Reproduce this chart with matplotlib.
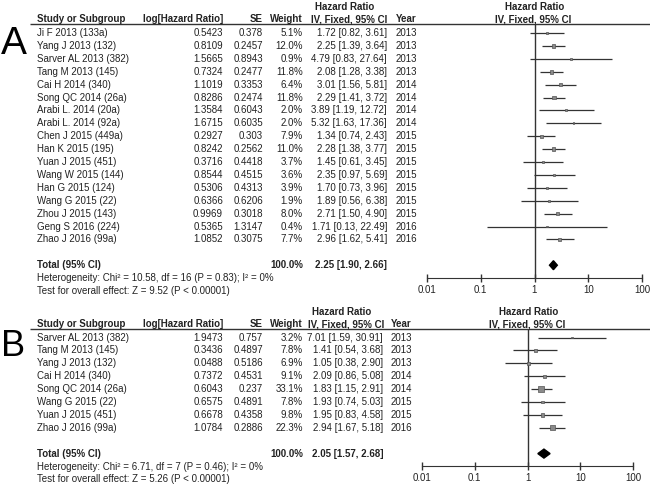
import matplotlib.pyplot as plt
import numpy as np

plt.rcParams['font.family'] = ['Liberation Sans', 'DejaVu Sans']

# ---- Panel A data ----
a_names = ["Ji F 2013 (133a)", "Yang J 2013 (132)", "Sarver AL 2013 (382)", "Tang M 2013 (145)",
           "Cai H 2014 (340)", "Song QC 2014 (26a)", "Arabi L. 2014 (20a)", "Arabi L. 2014 (92a)",
           "Chen J 2015 (449a)", "Han K 2015 (195)", "Yuan J 2015 (451)", "Wang W 2015 (144)",
           "Han G 2015 (124)", "Wang G 2015 (22)", "Zhou J 2015 (143)", "Geng S 2016 (224)",
           "Zhao J 2016 (99a)"]
a_loghr = ["0.5423", "0.8109", "1.5665", "0.7324", "1.1019", "0.8286", "1.3584", "1.6715", "0.2927",
           "0.8242", "0.3716", "0.8544", "0.5306", "0.6366", "0.9969", "0.5365", "1.0852"]
a_se = ["0.378", "0.2457", "0.8943", "0.2477", "0.3353", "0.2474", "0.6043", "0.6035", "0.303",
        "0.2562", "0.4418", "0.4515", "0.4313", "0.6206", "0.3018", "1.3147", "0.3075"]
a_weight = [5.1, 12.0, 0.9, 11.8, 6.4, 11.8, 2.0, 2.0, 7.9, 11.0, 3.7, 3.6, 3.9, 1.9, 8.0, 0.4, 7.7]
a_hr = [1.72, 2.25, 4.79, 2.08, 3.01, 2.29, 3.89, 5.32, 1.34, 2.28, 1.45, 2.35, 1.70, 1.89, 2.71, 1.71, 2.96]
a_lo = [0.82, 1.39, 0.83, 1.28, 1.56, 1.41, 1.19, 1.63, 0.74, 1.38, 0.61, 0.97, 0.73, 0.56, 1.50, 0.13, 1.62]
a_hi = [3.61, 3.64, 27.64, 3.38, 5.81, 3.72, 12.72, 17.36, 2.43, 3.77, 3.45, 5.69, 3.96, 6.38, 4.90, 22.49, 5.41]
a_year = [2013, 2013, 2013, 2013, 2014, 2014, 2014, 2014, 2015, 2015, 2015, 2015, 2015, 2015, 2015, 2016, 2016]
a_total = (2.25, 1.90, 2.66)
a_het = "Heterogeneity: Chi\u00b2 = 10.58, df = 16 (P = 0.83); I\u00b2 = 0%"
a_test = "Test for overall effect: Z = 9.52 (P < 0.00001)"

# ---- Panel B data ----
b_names = ["Sarver AL 2013 (382)", "Tang M 2013 (145)", "Yang J 2013 (132)", "Cai H 2014 (340)",
           "Song QC 2014 (26a)", "Wang G 2015 (22)", "Yuan J 2015 (451)", "Zhao J 2016 (99a)"]
b_loghr = ["1.9473", "0.3436", "0.0488", "0.7372", "0.6043", "0.6575", "0.6678", "1.0784"]
b_se = ["0.757", "0.4897", "0.5186", "0.4531", "0.237", "0.4891", "0.4358", "0.2886"]
b_weight = [3.2, 7.8, 6.9, 9.1, 33.1, 7.8, 9.8, 22.3]
b_hr = [7.01, 1.41, 1.05, 2.09, 1.83, 1.93, 1.95, 2.94]
b_lo = [1.59, 0.54, 0.38, 0.86, 1.15, 0.74, 0.83, 1.67]
b_hi = [30.91, 3.68, 2.90, 5.08, 2.91, 5.03, 4.58, 5.18]
b_year = [2013, 2013, 2013, 2014, 2014, 2015, 2015, 2016]
b_total = (2.05, 1.57, 2.68)
b_het = "Heterogeneity: Chi\u00b2 = 6.71, df = 7 (P = 0.46); I\u00b2 = 0%"
b_test = "Test for overall effect: Z = 5.26 (P < 0.00001)"

ticks = [0.01, 0.1, 1, 10, 100]
tick_labels = ["0.01", "0.1", "1", "10", "100"]

W, H = 650, 486
TXT = '#222222'
FS = 7
fig = plt.figure(figsize=(6.5, 4.86), dpi=100)
base = fig.add_axes([0, 0, 1, 1])
base.set_xlim(0, W)
base.set_ylim(H, 0)
base.axis('off')


def panel(letter, letter_y, line_y, row0, names, loghr, se, weight, hr, lo, hi, year,
          total, het, test, hr_right, year_left, hr_head, fx0, fx1, fhead):
    sp = 12.9
    ys = row0 + sp * np.arange(len(names))
    ytot = row0 + sp * (len(names) + 1)
    base.text(1, letter_y, letter, fontsize=28 if letter == 'A' else 26,
              ha='left', va='center', color='black')
    # column headers
    base.text(hr_head, line_y - 17, "Hazard Ratio", fontsize=FS, fontweight='bold', ha='center', va='center', color=TXT)
    base.text(fhead, line_y - 17, "Hazard Ratio", fontsize=FS, fontweight='bold', ha='center', va='center', color=TXT)
    hy = line_y - 5
    base.text(37, hy, "Study or Subgroup", fontsize=FS, fontweight='bold', ha='left', va='center', color=TXT)
    base.text(223, hy, "log[Hazard Ratio]", fontsize=FS, fontweight='bold', ha='right', va='center', color=TXT)
    base.text(263, hy, "SE", fontsize=FS, fontweight='bold', ha='right', va='center', color=TXT)
    base.text(303, hy, "Weight", fontsize=FS, fontweight='bold', ha='right', va='center', color=TXT)
    base.text(hr_head + 4, hy, "IV, Fixed, 95% CI", fontsize=FS, fontweight='bold', ha='center', va='center', color=TXT)
    base.text(year_left, hy, "Year", fontsize=FS, fontweight='bold', ha='left', va='center', color=TXT)
    base.text(fhead - 2, hy, "IV, Fixed, 95% CI", fontsize=FS, fontweight='bold', ha='center', va='center', color=TXT)
    base.hlines(line_y, 30, 650, color='#333333', lw=1)

    for y, n, l, s, w, h, a, b, yr in zip(ys, names, loghr, se, weight, hr, lo, hi, year):
        base.text(37, y, n, fontsize=FS, ha='left', va='center', color=TXT)
        base.text(223, y, l, fontsize=FS, ha='right', va='center', color=TXT)
        base.text(263, y, s, fontsize=FS, ha='right', va='center', color=TXT)
        base.text(303, y, f"{w:.1f}%", fontsize=FS, ha='right', va='center', color=TXT)
        base.text(hr_right, y, f"{h:.2f} [{a:.2f}, {b:.2f}]", fontsize=FS, ha='right', va='center', color=TXT)
        base.text(year_left, y, str(yr), fontsize=FS, ha='left', va='center', color=TXT)

    base.text(37, ytot, "Total (95% CI)", fontsize=FS, fontweight='bold', ha='left', va='center', color=TXT)
    base.text(303, ytot, "100.0%", fontsize=FS, fontweight='bold', ha='right', va='center', color=TXT)
    base.text(hr_right, ytot, f"{total[0]:.2f} [{total[1]:.2f}, {total[2]:.2f}]", fontsize=FS,
              fontweight='bold', ha='right', va='center', color=TXT)
    base.text(37, ytot + sp, het, fontsize=FS, ha='left', va='center', color=TXT)
    base.text(37, ytot + 2 * sp, test, fontsize=FS, ha='left', va='center', color=TXT)

    # forest plot
    ybot = ytot + 12.8
    ax = fig.add_axes([fx0 / W, 1 - ybot / H, (fx1 - fx0) / W, (ybot - line_y) / H])
    ax.set_xscale('log')
    ax.set_xlim(0.01, 100)
    ax.set_ylim(ybot, line_y)
    ax.patch.set_alpha(0)
    for sname in ['left', 'right', 'top']:
        ax.spines[sname].set_visible(False)
    ax.spines['bottom'].set_color('#333333')
    ax.axvline(1, color='#333333', lw=1)
    ax.hlines(ys, lo, hi, color='#333333', lw=0.9)
    side_pt = np.maximum(1.05 * np.sqrt(weight), 1.8) * 0.72
    ax.scatter(hr, ys, marker='s', s=side_pt ** 2, color='#8a8a8a', edgecolor='#555555', lw=0.5, zorder=3)
    dh = 4.5
    ax.fill([total[1], total[0], total[2], total[0]], [ytot, ytot - dh, ytot, ytot + dh], color='black', zorder=4)
    ax.set_xticks(ticks)
    ax.set_xticklabels(tick_labels, fontsize=FS, color=TXT)
    ax.minorticks_off()
    ax.tick_params(axis='x', direction='inout', length=6, width=1, color='#333333', pad=2)
    ax.set_yticks([])


panel('A', 44, 24, 33, a_names, a_loghr, a_se, a_weight, a_hr, a_lo, a_hi, a_year,
      a_total, a_het, a_test, 387, 396, 345, 427, 642, 535)
panel('B', 346, 329, 337.5, b_names, b_loghr, b_se, b_weight, b_hr, b_lo, b_hi, b_year,
      b_total, b_het, b_test, 383, 391, 342, 422, 633, 529)

fig.savefig('out.png', dpi=100)
